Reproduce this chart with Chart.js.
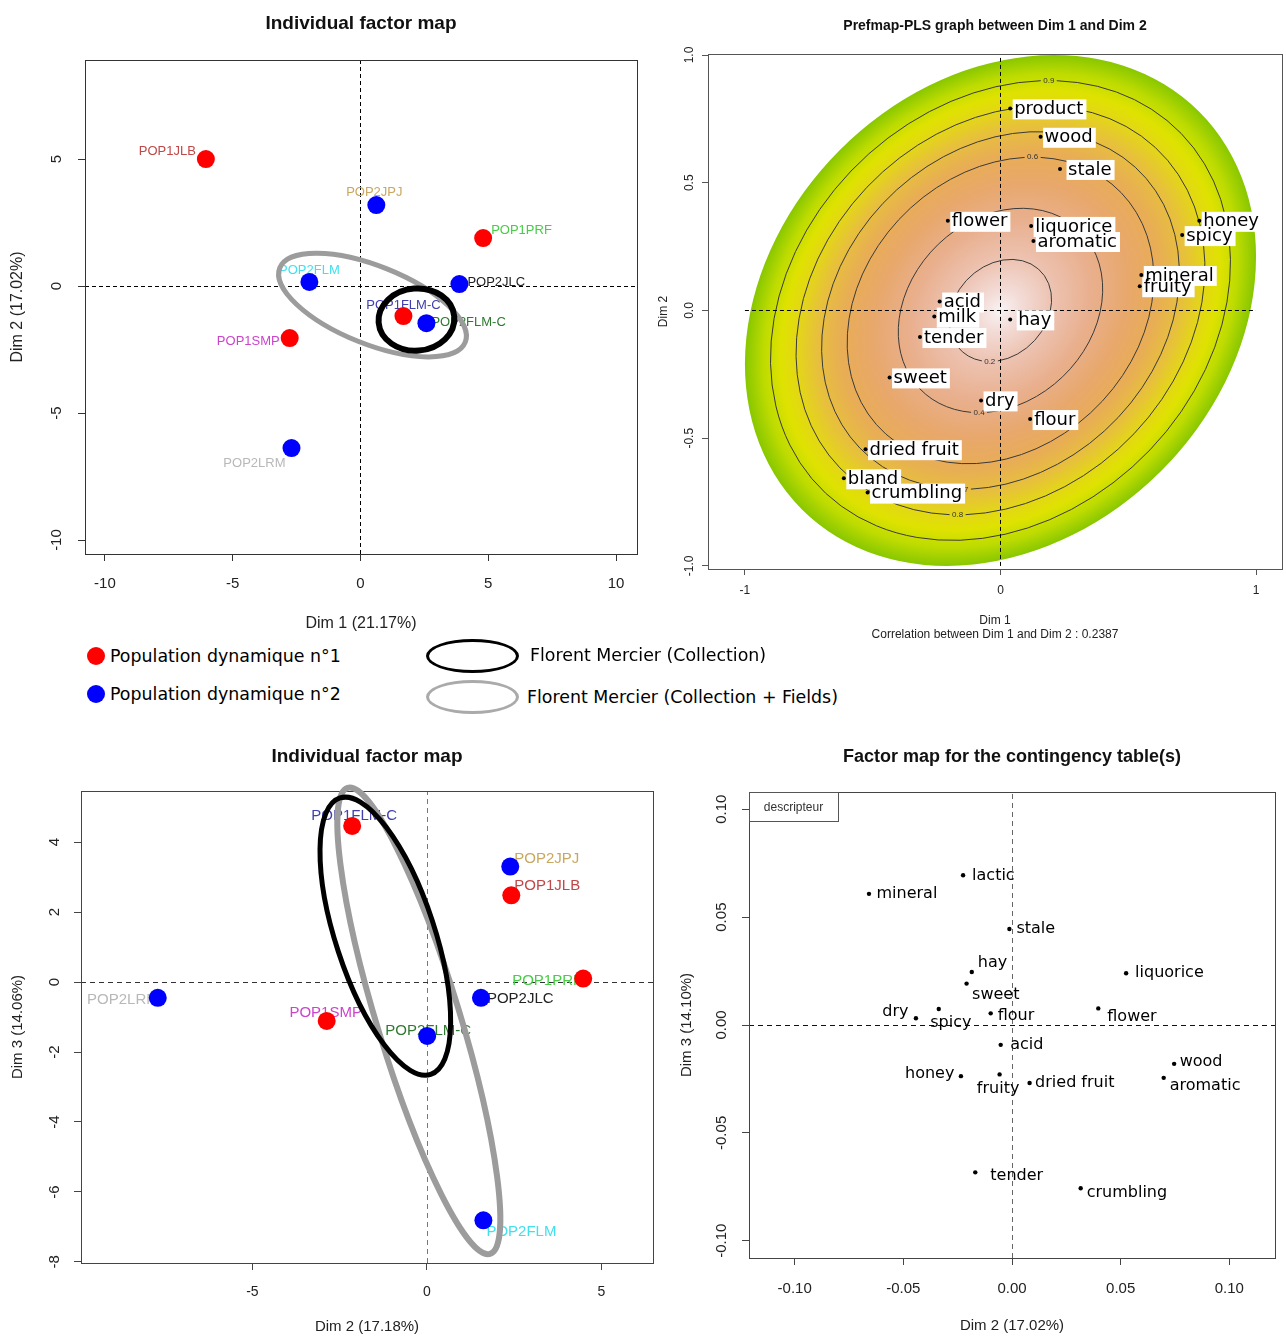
<!DOCTYPE html>
<html>
<head>
<meta charset="utf-8">
<script src="https://cdn.jsdelivr.net/npm/chart.js"></script>
<style>
  body { margin: 0; width: 1286px; height: 1336px; position: relative; background: #fff; overflow: hidden; }
  canvas { position: absolute; }
  .key { position: absolute; font-family: 'DejaVu Sans', sans-serif; font-size: 17.4px; line-height: 20px; color: #000; white-space: nowrap; }
  .dot { position: absolute; width: 18px; height: 18px; border-radius: 50%; }
  .ring { position: absolute; width: 87px; height: 28px; border-radius: 50%; border: 3px solid #000; }
</style>
</head>
<body>
<canvas id="chartA" width="660" height="645" style="left:0;top:0"></canvas>
<canvas id="chartB" width="636" height="645" style="left:650px;top:0"></canvas>
<canvas id="chartC" width="670" height="606" style="left:0;top:730px"></canvas>
<canvas id="chartD" width="616" height="606" style="left:670px;top:730px"></canvas>

<div class="dot" style="left:87px;top:647px;background:#ff0000"></div>
<div class="key" style="left:110px;top:646px">Population dynamique n°1</div>
<div class="dot" style="left:87px;top:685px;background:#0000ff"></div>
<div class="key" style="left:110px;top:684px">Population dynamique n°2</div>
<div class="ring" style="left:426px;top:639px"></div>
<div class="key" style="left:530px;top:645px">Florent Mercier (Collection)</div>
<div class="ring" style="left:426px;top:680px;border-color:#aaaaaa"></div>
<div class="key" style="left:527px;top:687px">Florent Mercier (Collection + Fields)</div>

<script>
// Individuals (panels A and C)
const individuals = ['POP1JLB', 'POP1PRF', 'POP1FLM-C', 'POP1SMP', 'POP2JPJ', 'POP2FLM', 'POP2JLC', 'POP2FLM-C', 'POP2LRM'];
const population = [1, 1, 1, 1, 2, 2, 2, 2, 2];

// Panel A: Dim 1 (21.17%) x Dim 2 (17.02%)
const indDim1A = [-6.05, 4.80, 1.68, -2.77, 0.62, -2.00, 3.87, 2.58, -2.70];
const indDim2A = [5.00, 1.89, -1.18, -2.05, 3.19, 0.16, 0.08, -1.46, -6.38];

// Panel C: Dim 2 (17.18%) x Dim 3 (14.06%)
const indDim2C = [2.42, 4.48, -2.14, -2.87, 2.39, 1.62, 1.55, 0.01, -7.71];
const indDim3C = [2.48, 0.10, 4.46, -1.11, 3.30, -6.81, -0.45, -1.54, -0.45];

// Confidence ellipses: [Collection + Fields, Collection]
const ellipseCentersA = [[0.47, -0.75], [2.19, -1.32]];
const ellipseAxesA = [[3.63, -1.46], [1.48, 0.12]];
const ellipseRatiosA = [0.39, 0.82];
const ellipseCentersC = [[-0.23, -1.11], [-1.19, 1.31]];
const ellipseAxesC = [[-2.04, 6.66], [-1.30, 3.95]];
const ellipseRatiosC = [0.17, 0.34];

// Panel B: Prefmap-PLS
const prefWords = ['product', 'wood', 'stale', 'flower', 'liquorice', 'aromatic', 'honey', 'spicy', 'mineral', 'fruity',
                   'acid', 'milk', 'hay', 'tender', 'sweet', 'dry', 'flour', 'dried fruit', 'bland', 'crumbling'];
const prefDim1 = [0.038, 0.157, 0.233, -0.206, 0.120, 0.129, 0.778, 0.711, 0.551, 0.545,
                  -0.238, -0.259, 0.038, -0.315, -0.434, -0.076, 0.116, -0.528, -0.613, -0.520];
const prefDim2 = [0.791, 0.680, 0.554, 0.351, 0.331, 0.272, 0.351, 0.295, 0.139, 0.095,
                  0.035, -0.024, -0.035, -0.104, -0.262, -0.352, -0.425, -0.543, -0.657, -0.713];
const surfaceRho = 0.21;
const contourLevels = [0.2, 0.4, 0.6, 0.7, 0.8, 0.9];

// Panel D: contingency table descriptors
const ctWords = ['lactic', 'mineral', 'stale', 'hay', 'liquorice', 'sweet', 'dry', 'spicy', 'flour', 'flower',
                 'acid', 'wood', 'aromatic', 'honey', 'fruity', 'dried fruit', 'tender', 'crumbling'];
const ctDim2 = [-0.0225, -0.0658, -0.0012, -0.0185, 0.0525, -0.0209, -0.0442, -0.0337, -0.0098, 0.0397,
                -0.0052, 0.0746, 0.0698, -0.0235, -0.0057, 0.0081, -0.0169, 0.0316];
const ctDim3 = [0.0694, 0.0608, 0.0445, 0.0246, 0.0240, 0.0192, 0.0031, 0.0074, 0.0054, 0.0077,
                -0.0092, -0.0180, -0.0245, -0.0237, -0.0229, -0.0269, -0.0683, -0.0757];

// Tick values and labels
const ticksA_x = [-10, -5, 0, 5, 10];
const labelsA_x = ['-10', '-5', '0', '5', '10'];
const ticksA_y = [-10, -5, 0, 5];
const labelsA_y = ['-10', '-5', '0', '5'];
const ticksB_x = [-1, 0, 1];
const labelsB_x = ['-1', '0', '1'];
const ticksB_y = [-1, -0.5, 0, 0.5, 1];
const labelsB_y = ['-1.0', '-0.5', '0.0', '0.5', '1.0'];
const ticksC_x = [-5, 0, 5];
const labelsC_x = ['-5', '0', '5'];
const ticksC_y = [-8, -6, -4, -2, 0, 2, 4];
const labelsC_y = ['-8', '-6', '-4', '-2', '0', '2', '4'];
const ticksD = [-0.1, -0.05, 0, 0.05, 0.1];
const labelsD = ['-0.10', '-0.05', '0.00', '0.05', '0.10'];

// ---- styles ----
const indLabelColors = ['#c04848', '#48cc48', '#4040b0', '#cc44cc', '#c8a860', '#40e0ee', '#222222', '#2f7a2f', '#b8b8b8'];
const indLabelPosA = [[-10, -8, 'right'], [8, -8, 'left'], [0, -11, 'center'], [-10, 3, 'right'], [-2, -13, 'center'],
                      [0, -12, 'center'], [8, -2, 'left'], [5, -1, 'left'], [-6, 15, 'right']];
const indLabelPosC = [[3, -9, 'left'], [-1, 2, 'right'], [2, -10, 'center'], [-1, -8, 'center'], [4, -8, 'left'],
                      [3, 12, 'left'], [6, 1, 'left'], [1, -5, 'center'], [1, 2, 'right']];
const prefLabelGap = prefWords.map(w => (w === 'stale' || w === 'hay') ? 8 : 4);
const ctLabelPos = [[9, 1, 'left'], [7.5, 0, 'left'], [7, 0, 'left'], [6, -9, 'left'], [9, 0, 'left'], [5.5, 11, 'left'],
                    [-7.5, -6, 'right'], [-8.5, 14, 'left'], [7, 2, 'left'], [9, 8, 'left'], [9.5, 0, 'left'], [5.5, -2, 'left'],
                    [6, 8, 'left'], [-6.5, -2, 'right'], [-1.5, 14, 'center'], [5.5, 0, 'left'], [15, 3, 'left'], [6, 5, 'left']];

Chart.defaults.font.family = "'Liberation Sans', Arial, sans-serif";
Chart.defaults.color = '#222';

// ---- plugins ----
const frame = {
    id: 'frame',
    afterDatasetsDraw(chart, args, o) {
        const { ctx, chartArea: ca } = chart;
        ctx.save();
        ctx.strokeStyle = o.color || '#333';
        ctx.lineWidth = 1;
        ctx.strokeRect(Math.round(ca.left) + 0.5, Math.round(ca.top) + 0.5,
            Math.round(ca.right - ca.left), Math.round(ca.bottom - ca.top));
        ctx.restore();
    }
};

const zeroLines = {
    id: 'zeroLines',
    beforeDatasetsDraw(chart, args, o) {
        const { ctx, chartArea: ca, scales: { x, y } } = chart;
        const x0 = Math.round(x.getPixelForValue(0)) + 0.5;
        const y0 = Math.round(y.getPixelForValue(0)) + 0.5;
        const xs = o.extent ? o.extent.map(v => x.getPixelForValue(v)) : [ca.left, ca.right];
        const ys = o.extent ? o.extent.map(v => y.getPixelForValue(v)) : [ca.bottom, ca.top];
        ctx.save();
        ctx.lineWidth = 1;
        ctx.setLineDash(o.dash || [4, 3]);
        ctx.strokeStyle = o.vColor || '#000';
        ctx.beginPath(); ctx.moveTo(x0, ys[0]); ctx.lineTo(x0, ys[1]); ctx.stroke();
        ctx.strokeStyle = o.hColor || '#000';
        ctx.beginPath(); ctx.moveTo(xs[0], y0); ctx.lineTo(xs[1], y0); ctx.stroke();
        ctx.restore();
    }
};

// text next to each point; optional white boxes are all painted before any text
const pointText = {
    id: 'pointText',
    beforeDatasetsDraw(chart, args, o) {
        const { ctx } = chart;
        const items = [];
        ctx.save();
        ctx.font = o.font;
        ctx.textBaseline = 'middle';
        chart.data.datasets.forEach((ds, di) => {
            chart.getDatasetMeta(di).data.forEach((pt, i) => {
                const [dx, dy, align] = ds.labelPos[i];
                items.push({ text: ds.names[i], x: pt.x + dx, y: pt.y + dy, align: align,
                             color: ds.labelColors ? ds.labelColors[i] : (o.color || '#000') });
            });
        });
        if (o.box) {
            ctx.fillStyle = '#fff';
            items.forEach(it => {
                const w = ctx.measureText(it.text).width;
                const left = it.align === 'left' ? it.x : it.align === 'right' ? it.x - w : it.x - w / 2;
                ctx.fillRect(left - o.box[0], it.y - o.box[2] / 2, w + o.box[0] + o.box[1], o.box[2]);
            });
        }
        items.forEach(it => {
            ctx.textAlign = it.align;
            ctx.fillStyle = it.color;
            ctx.fillText(it.text, it.x, it.y);
        });
        ctx.restore();
    }
};

const ellipses = {
    id: 'ellipses',
    afterDatasetsDraw(chart, args, o) {
        const { ctx, scales: { x, y } } = chart;
        o.centers.forEach((c, i) => {
            const px = x.getPixelForValue(c[0]), py = y.getPixelForValue(c[1]);
            const ex = x.getPixelForValue(c[0] + o.axes[i][0]) - px;
            const ey = y.getPixelForValue(c[1] + o.axes[i][1]) - py;
            const a = Math.hypot(ex, ey);
            ctx.save();
            ctx.strokeStyle = o.colors[i];
            ctx.lineWidth = o.widths[i];
            ctx.beginPath();
            ctx.ellipse(px, py, a, a * o.ratios[i], Math.atan2(ey, ex), 0, 2 * Math.PI);
            ctx.stroke();
            ctx.restore();
        });
    }
};

const yTickText = {
    id: 'yTickText',
    afterDraw(chart, args, o) {
        const { ctx, chartArea: ca, scales: { y } } = chart;
        ctx.save();
        ctx.font = o.size + "px 'Liberation Sans', Arial, sans-serif";
        ctx.fillStyle = '#222';
        ctx.textAlign = 'center';
        ctx.textBaseline = 'middle';
        y.ticks.forEach((t, i) => {
            ctx.save();
            ctx.translate(ca.left - o.offset, y.getPixelForValue(t.value));
            ctx.rotate(-Math.PI / 2);
            ctx.fillText(o.labels[i], 0, 0);
            ctx.restore();
        });
        ctx.restore();
    }
};

// preference surface: correlation-shaped ellipse with radial colour ramp and contours
const surface = {
    id: 'surface',
    beforeDatasetsDraw(chart, args, o) {
        const { ctx, scales: { x, y } } = chart;
        const cx = x.getPixelForValue(0), cy = y.getPixelForValue(0);
        const sx = x.getPixelForValue(1) - cx, sy = cy - y.getPixelForValue(1);
        const A = Math.sqrt(1 + o.rho), B = Math.sqrt(1 - o.rho), c = Math.SQRT1_2;
        const m = [sx * A * c, -sy * A * c, -sx * B * c, -sy * B * c, cx, cy];
        const map = (u, v) => [m[0] * u + m[2] * v + m[4], m[1] * u + m[3] * v + m[5]];

        ctx.save();
        ctx.transform(...m);
        const g = ctx.createRadialGradient(0, 0, 0, 0, 0, 1);
        o.stops.forEach(s => g.addColorStop(s[0], s[1]));
        ctx.fillStyle = g;
        ctx.beginPath();
        ctx.arc(0, 0, 1, 0, 2 * Math.PI);
        ctx.fill();
        ctx.restore();

        const tTop = Math.atan2(B, A);
        ctx.save();
        ctx.strokeStyle = '#3a3a3a';
        ctx.lineWidth = 1;
        o.levels.forEach((r, i) => {
            const t = o.labelSide[i] > 0 ? tTop : tTop + Math.PI;
            const speed = r * Math.hypot(-m[0] * Math.sin(t) + m[2] * Math.cos(t), -m[1] * Math.sin(t) + m[3] * Math.cos(t));
            const d = 8 / speed;
            ctx.save();
            ctx.transform(...m);
            ctx.beginPath();
            ctx.arc(0, 0, r, t + d, t - d + 2 * Math.PI);
            ctx.restore();
            ctx.stroke();
            const [lx, ly] = map(r * Math.cos(t), r * Math.sin(t));
            ctx.fillStyle = '#333';
            ctx.font = "8px 'Liberation Sans', Arial, sans-serif";
            ctx.textAlign = 'center';
            ctx.textBaseline = 'middle';
            ctx.fillText(String(r), lx, ly);
        });
        ctx.restore();
    }
};

const keyBox = {
    id: 'keyBox',
    afterDraw(chart, args, o) {
        const { ctx, chartArea: ca } = chart;
        ctx.save();
        ctx.strokeStyle = '#555';
        ctx.lineWidth = 1;
        ctx.strokeRect(Math.round(ca.left) + 0.5, Math.round(ca.top) + 0.5, o.w, o.h);
        ctx.font = "12px 'Liberation Sans', Arial, sans-serif";
        ctx.fillStyle = '#333';
        ctx.textAlign = 'center';
        ctx.textBaseline = 'middle';
        ctx.fillText(o.text, ca.left + o.w / 2, ca.top + o.h / 2 + 1);
        ctx.restore();
    }
};

// ---- helpers ----
function axis(o) {
    return {
        type: 'linear',
        min: o.min,
        max: o.max,
        afterBuildTicks: s => { s.ticks = o.ticks.map(v => ({ value: v })); },
        afterFit: s => { if (o.horizontal) s.height = o.size; else s.width = o.size; },
        grid: { drawOnChartArea: false, drawTicks: true, tickLength: o.tickLength || 7, color: o.lineColor || '#333' },
        border: { display: false },
        ticks: {
            display: !!o.horizontal, autoSkip: false, maxRotation: 0, minRotation: 0,
            padding: o.tickPad || 0, font: { size: o.tickFont }, color: '#222',
            callback: (v, i) => o.labels[i]
        },
        title: { display: true, text: o.title, font: { size: o.titleFont }, color: '#222', padding: o.titlePad }
    };
}

function chartTitle(text, size, top, bottom) {
    return { display: true, text: text, fullSize: false, color: '#111',
             font: { size: size, weight: 'bold' }, padding: { top: top, bottom: bottom } };
}

function popDatasets(xs, ys, labelPos, radius) {
    return [1, 2].map(p => {
        const idx = individuals.map((n, i) => i).filter(i => population[i] === p);
        const col = p === 1 ? '#ff0000' : '#0000ff';
        return {
            data: idx.map(i => ({ x: xs[i], y: ys[i] })),
            names: idx.map(i => individuals[i]),
            labelColors: idx.map(i => indLabelColors[i]),
            labelPos: idx.map(i => labelPos[i]),
            backgroundColor: col, borderColor: col,
            pointRadius: radius, pointBorderWidth: 0
        };
    });
}

const base = { responsive: false, animation: false, events: [] };

// ---- Panel A ----
new Chart(document.getElementById('chartA'), {
    type: 'scatter',
    data: { datasets: popDatasets(indDim1A, indDim2A, indLabelPosA, 9) },
    options: Object.assign({}, base, {
        layout: { padding: { left: 0, right: 23, top: 0, bottom: 0 } },
        plugins: {
            legend: { display: false }, tooltip: { enabled: false },
            title: chartTitle('Individual factor map', 19, 12.5, 24.7),
            zeroLines: { dash: [4, 3] },
            pointText: { font: "13px 'Liberation Sans', Arial, sans-serif" },
            ellipses: { centers: ellipseCentersA, axes: ellipseAxesA, ratios: ellipseRatiosA, colors: ['#9c9c9c', '#000'], widths: [5, 6] },
            yTickText: { labels: labelsA_y, offset: 28, size: 15 }
        },
        scales: {
            x: axis({ horizontal: true, min: -10.78, max: 10.82, ticks: ticksA_x, labels: labelsA_x, size: 91, tickPad: 14, tickFont: 15,
                      title: 'Dim 1 (21.17%)', titleFont: 16, titlePad: { top: 0, bottom: 12 } }),
            y: axis({ min: -10.55, max: 8.9, ticks: ticksA_y, labels: labelsA_y, size: 85, tickFont: 15,
                      title: 'Dim 2 (17.02%)', titleFont: 16, titlePad: { top: 8.4, bottom: 0 } })
        }
    }),
    plugins: [zeroLines, pointText, frame, ellipses, yTickText]
});

// ---- Panel B ----
new Chart(document.getElementById('chartB'), {
    type: 'scatter',
    data: {
        datasets: [{
            data: prefWords.map((w, i) => ({ x: prefDim1[i], y: prefDim2[i] })),
            names: prefWords,
            labelPos: prefWords.map((w, i) => [prefLabelGap[i], 1, 'left']),
            backgroundColor: '#000', borderColor: '#000', pointRadius: 2, pointBorderWidth: 0
        }]
    },
    options: Object.assign({}, base, {
        layout: { padding: { left: 0, right: 3, top: 0, bottom: 0 } },
        plugins: {
            legend: { display: false }, tooltip: { enabled: false },
            title: chartTitle('Prefmap-PLS graph between Dim 1 and Dim 2', 14, 17.6, 19.6),
            surface: {
                rho: surfaceRho, levels: contourLevels, labelSide: [-1, -1, 1, -1, -1, 1],
                stops: [[0, '#f8f3f3'], [0.08, '#f3dcd7'], [0.2, '#edc3b2'], [0.35, '#e9b08f'], [0.5, '#e8a86c'],
                        [0.62, '#e8ad55'], [0.72, '#e7c03c'], [0.8, '#e3d716'], [0.86, '#dfe200'], [0.93, '#bcdb00'], [1, '#88c700']]
            },
            zeroLines: { dash: [4, 3], extent: [-1, 1] },
            pointText: { font: "18px 'DejaVu Sans', sans-serif", box: [1.5, 3, 20] },
            frame: { color: '#555' },
            yTickText: { labels: labelsB_y, offset: 18, size: 12 }
        },
        scales: {
            x: axis({ horizontal: true, min: -1.1445, max: 1.1016, ticks: ticksB_x, labels: labelsB_x, size: 76, tickLength: 6, tickPad: 8.5, tickFont: 12,
                      title: ['Dim 1', 'Correlation between Dim 1 and Dim 2 : 0.2387'], titleFont: 12, titlePad: { top: 0, bottom: 3 }, lineColor: '#555' }),
            y: axis({ min: -1.012, max: 1.004, ticks: ticksB_y, labels: labelsB_y, size: 58, tickLength: 6, tickFont: 12,
                      title: 'Dim 2', titleFont: 12, titlePad: { top: 6.8, bottom: 0 }, lineColor: '#555' })
        }
    }),
    plugins: [surface, zeroLines, pointText, frame, yTickText]
});

// ---- Panel C ----
new Chart(document.getElementById('chartC'), {
    type: 'scatter',
    data: { datasets: popDatasets(indDim2C, indDim3C, indLabelPosC, 9) },
    options: Object.assign({}, base, {
        layout: { padding: { left: 0, right: 17, top: 0, bottom: 0 } },
        plugins: {
            legend: { display: false }, tooltip: { enabled: false },
            title: chartTitle('Individual factor map', 19, 15.6, 22.6),
            zeroLines: { dash: [5, 4], vColor: '#777', hColor: '#333' },
            pointText: { font: "15px 'Liberation Sans', Arial, sans-serif" },
            frame: { color: '#444' },
            ellipses: { centers: ellipseCentersC, axes: ellipseAxesC, ratios: ellipseRatiosC, colors: ['#9c9c9c', '#000'], widths: [6, 5] },
            yTickText: { labels: labelsC_y, offset: 26, size: 15 }
        },
        scales: {
            x: axis({ horizontal: true, min: -9.91, max: 6.48, ticks: ticksC_x, labels: labelsC_x, size: 73, tickPad: 13.5, tickFont: 14,
                      title: 'Dim 2 (17.18%)', titleFont: 15, titlePad: { top: 0, bottom: 0 }, lineColor: '#444' }),
            y: axis({ min: -8.03, max: 5.46, ticks: ticksC_y, labels: labelsC_y, size: 81, tickFont: 15,
                      title: 'Dim 3 (14.06%)', titleFont: 15, titlePad: { top: 9, bottom: 0 }, lineColor: '#444' })
        }
    }),
    plugins: [zeroLines, pointText, frame, ellipses, yTickText]
});

// ---- Panel D ----
new Chart(document.getElementById('chartD'), {
    type: 'scatter',
    data: {
        datasets: [{
            data: ctWords.map((w, i) => ({ x: ctDim2[i], y: ctDim3[i] })),
            names: ctWords,
            labelPos: ctLabelPos,
            backgroundColor: '#000', borderColor: '#000', pointRadius: 2.2, pointBorderWidth: 0
        }]
    },
    options: Object.assign({}, base, {
        layout: { padding: { left: 0, right: 11, top: 0, bottom: 0 } },
        plugins: {
            legend: { display: false }, tooltip: { enabled: false },
            title: chartTitle('Factor map for the contingency table(s)', 18, 16.2, 24.2),
            zeroLines: { dash: [5, 4], vColor: '#666', hColor: '#111' },
            pointText: { font: "16px 'DejaVu Sans', sans-serif" },
            frame: { color: '#444' },
            keyBox: { text: 'descripteur', w: 89, h: 29 },
            yTickText: { labels: labelsD, offset: 27, size: 15 }
        },
        scales: {
            x: axis({ horizontal: true, min: -0.121, max: 0.121, ticks: ticksD, labels: labelsD, size: 78, tickPad: 15, tickFont: 15,
                      title: 'Dim 2 (17.02%)', titleFont: 15, titlePad: { top: 0, bottom: 1 }, lineColor: '#444' }),
            y: axis({ min: -0.108, max: 0.108, ticks: ticksD, labels: labelsD, size: 79, tickFont: 15,
                      title: 'Dim 3 (14.10%)', titleFont: 15, titlePad: { top: 8, bottom: 0 }, lineColor: '#444' })
        }
    }),
    plugins: [zeroLines, pointText, frame, keyBox, yTickText]
});
</script>
</body>
</html>
